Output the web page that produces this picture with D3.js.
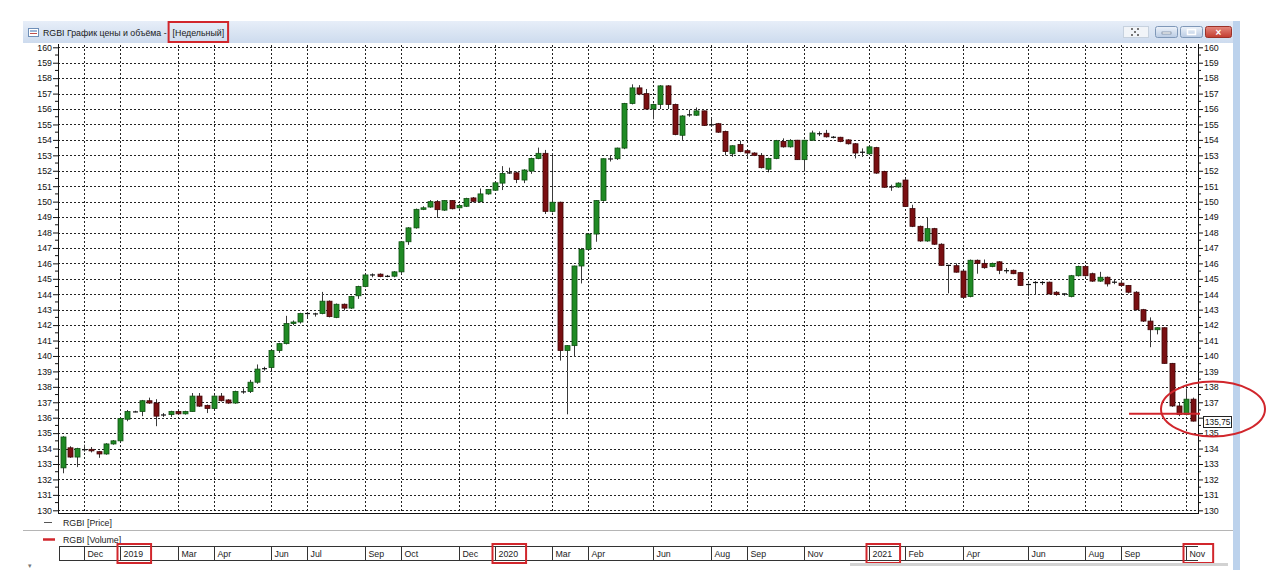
<!DOCTYPE html>
<html><head><meta charset="utf-8">
<script src="https://cdn.jsdelivr.net/npm/d3@7"></script>
<style>
html,body{margin:0;padding:0;background:#fff;}
svg{display:block;font-family:"Liberation Sans",Arial,sans-serif;}
</style></head>
<body>
<svg id="c" width="1280" height="586"></svg>
<script>
// ---------- DATA ----------
const startMonday = '2018-11-12';
const endMondayExclusive = '2021-11-16';
const openV = [132.75,134.05,133.45,133.9,133.95,133.8,133.65,134.3,134.5,135.9,136.35,136.4,137.1,136.95,136.15,136.2,136.4,136.25,136.4,137.4,136.8,136.6,137.4,137.15,136.95,137.65,137.7,
138.3,139.15,139.25,140.35,140.8,142.1,142.2,142.75,142.75,142.75,143.55,142.5,143.35,143.1,143.9,144.5,145.25,145.3,145.15,145.17,145.45,147.4,148.3,149.5,149.65,
150.0,149.45,150.07,149.6,149.7,150.24,150.0,150.5,150.74,151.2,151.85,151.87,151.4,151.98,152.8,153.13,149.37,149.96,140.35,140.67,145.83,146.9,147.9,150.07,152.75,152.78,
153.47,156.36,157.37,157.0,156.0,156.3,157.5,156.3,154.3,155.6,155.6,155.88,154.95,155.05,154.55,153.1,153.7,153.3,153.15,153.0,152.1,152.8,153.9,153.55,153.98,
152.72,153.98,154.4,154.43,154.17,154.17,154.0,153.75,153.2,153.1,153.5,151.95,150.95,150.95,151.4,149.55,148.4,147.45,148.25,147.24,145.87,145.85,
145.5,143.85,146.2,146.0,145.8,146.1,145.55,145.55,145.4,144.63,144.76,144.76,144.78,144.13,144.02,143.85,145.2,145.8,145.33,144.85,145.1,144.78,144.72,144.57,
144.13,143.0,142.26,141.7,141.83,139.52,136.76,136.2,137.2];
const highV = [134.8,134.15,134.05,134.25,134.1,133.85,134.35,134.55,136.0,136.5,136.45,137.15,137.3,137.2,136.3,136.45,136.45,136.45,137.6,137.6,136.85,137.45,137.6,137.2,137.75,137.9,138.45,
139.45,139.3,140.4,140.85,142.6,142.3,142.8,142.85,142.8,144.15,143.6,143.4,143.4,143.9,144.55,145.3,145.35,145.35,145.25,145.5,147.45,148.35,149.55,149.7,150.1,
150.1,150.1,150.1,149.85,150.25,150.3,150.85,150.82,151.25,152.3,152.2,151.95,152.1,152.85,153.5,153.35,153.15,150.0,140.7,145.85,147.0,147.95,150.1,152.8,153.0,153.5,
156.4,157.6,157.55,157.3,156.35,157.55,157.55,156.35,155.6,155.95,156.1,155.9,155.4,155.1,154.6,153.65,153.95,153.35,153.2,153.15,152.85,154.0,154.1,154.05,154.0,
154.0,154.6,154.55,154.65,154.25,154.2,154.05,153.8,153.45,153.65,153.55,152.0,151.1,151.25,151.5,149.8,148.45,149.0,148.3,147.3,145.9,146.0,
145.55,146.25,146.25,146.25,146.05,146.15,145.7,145.6,145.45,144.7,144.85,144.85,144.82,144.2,144.05,145.25,145.85,145.85,145.4,145.45,145.15,144.95,144.9,144.6,
144.2,143.05,142.5,141.85,141.85,139.55,136.95,137.9,137.3];
const lowV = [132.4,133.4,132.8,133.8,133.75,133.4,133.6,134.25,134.45,135.77,136.35,136.1,136.9,135.45,136.05,136.05,136.2,136.2,136.4,136.7,136.3,136.55,137.05,136.9,136.9,137.55,137.6,
138.2,139.05,139.1,140.2,140.75,142.0,142.1,142.5,142.55,142.7,142.5,142.45,142.95,143.05,143.7,144.45,145.1,145.1,145.1,145.1,145.3,147.2,148.25,149.45,149.6,
148.95,149.4,149.5,149.55,149.65,149.95,149.95,150.45,150.7,150.75,151.8,151.2,151.2,151.8,152.75,149.2,149.3,139.7,136.22,139.95,144.7,146.85,147.4,150.0,152.6,152.7,
153.4,156.3,156.9,155.95,155.33,156.0,156.0,154.3,154.0,155.5,155.55,154.9,154.9,154.45,153.0,152.9,153.2,152.9,152.95,152.15,151.9,152.75,153.5,153.5,152.7,
151.96,153.95,154.25,154.15,154.1,153.85,153.7,152.8,152.9,153.05,151.8,150.9,150.7,150.9,149.65,148.35,147.4,147.4,147.2,145.85,144.06,145.4,
143.78,143.8,145.33,145.65,145.75,145.3,145.35,145.3,144.55,143.9,144.0,144.6,144.0,143.9,143.9,143.8,145.15,145.15,144.8,144.8,144.5,144.65,144.5,144.05,
142.95,142.2,140.57,141.4,139.5,136.7,136.1,136.15,135.75];
const closeV = [134.75,133.45,134.0,133.95,133.85,133.65,134.3,134.5,135.95,136.4,136.4,137.1,136.95,136.1,136.2,136.4,136.25,136.4,137.4,136.75,136.6,137.4,137.1,136.95,137.7,137.7,138.3,
139.15,139.2,140.35,140.8,142.1,142.2,142.75,142.75,142.7,143.55,142.55,143.35,143.1,143.85,144.5,145.25,145.25,145.15,145.17,145.45,147.4,148.3,149.5,149.6,150.0,
149.48,150.07,149.54,149.75,150.2,150.02,150.5,150.78,151.22,151.83,151.87,151.43,152.05,152.8,153.13,149.37,149.96,140.35,140.67,145.83,146.9,147.9,150.07,152.78,152.78,153.47,
156.36,157.37,156.97,156.0,156.3,157.5,156.3,154.35,155.55,155.65,155.88,154.94,155.0,154.5,153.25,153.62,153.25,153.15,153.0,152.2,152.8,153.95,153.55,153.97,152.72,
153.98,154.45,154.4,154.2,154.17,153.9,153.75,153.15,153.2,153.55,151.85,150.93,150.95,151.2,149.68,148.4,147.45,148.25,147.24,145.87,145.87,145.43,
143.8,146.2,146.0,145.72,146.0,145.55,145.5,145.33,144.57,144.63,144.76,144.76,144.02,143.98,144.02,145.2,145.8,145.2,144.85,145.1,144.67,144.78,144.57,144.13,
143.0,142.26,141.7,141.83,139.52,136.76,136.2,137.2,135.78];

const priceTicks = d3.range(130, 161);
const tickDates = ['2018-12-03','2019-01-07','2019-03-04','2019-04-08','2019-06-03','2019-07-08','2019-09-02','2019-10-07','2019-12-02','2020-01-06','2020-03-02','2020-04-06','2020-06-08','2020-08-03','2020-09-07','2020-11-02','2021-01-04','2021-02-08','2021-04-05','2021-06-07','2021-08-02','2021-09-06','2021-11-08'];
const tickLabels = ['Dec','2019','Mar','Apr','Jun','Jul','Sep','Oct','Dec','2020','Mar','Apr','Jun','Aug','Sep','Nov','2021','Feb','Apr','Jun','Aug','Sep','Nov'];
const highlightedTickIdx = [1, 9, 16, 22];
const lastPrice = 135.75;
const supportLevel = 136.25;
const titleMain = 'RGBI График цены и объёма -';
const titlePeriod = '[Недельный]';

// ---------- SETUP ----------
const fmt = d3.timeFormat('%Y-%m-%d');
const parse = d3.timeParse('%Y-%m-%d');
const dates = d3.timeMonday.range(parse(startMonday), parse(endMondayExclusive)).map(fmt);
const candles = dates.slice(0, openV.length).map((d, i) => ({d, o: openV[i], h: highV[i], l: lowV[i], c: closeV[i]}));

const svg = d3.select('#c');
const RED = '#d1262c';
const FS = 8.8;
const L = 58, R = 1198, T = 47.3, B = 510.3;

const x = d3.scaleBand().domain(candles.map(c => c.d)).range([L + 1.1, R - 1.3]).paddingInner(0.32).paddingOuter(0.16);
const xc = d => x(d) + x.bandwidth() / 2;
const y = d3.scaleLinear().domain([130, 160]).range([B, T]);

// window chrome
const defs = svg.append('defs');
const g1 = defs.append('linearGradient').attr('id','tb').attr('x1',0).attr('y1',0).attr('x2',0).attr('y2',1);
g1.append('stop').attr('offset','0').attr('stop-color','#e7eef8');
g1.append('stop').attr('offset','1').attr('stop-color','#cddbee');
const g2 = defs.append('linearGradient').attr('id','btn').attr('x1',0).attr('y1',0).attr('x2',0).attr('y2',1);
g2.append('stop').attr('offset','0').attr('stop-color','#eef3fa');
g2.append('stop').attr('offset','1').attr('stop-color','#b9cbe3');
const g3 = defs.append('linearGradient').attr('id','cls').attr('x1',0).attr('y1',0).attr('x2',0).attr('y2',1);
g3.append('stop').attr('offset','0').attr('stop-color','#e5897f');
g3.append('stop').attr('offset','1').attr('stop-color','#c23b2e');

svg.append('rect').attr('x',23).attr('y',21).attr('width',1211).attr('height',22).attr('fill','url(#tb)');
svg.append('rect').attr('x',1233).attr('y',21).attr('width',7).attr('height',549).attr('fill','#bcd2ec');
// icon
svg.append('rect').attr('x',28.5).attr('y',28.5).attr('width',10).attr('height',8).attr('fill','#fff').attr('stroke','#6f8fb8');
svg.append('line').attr('x1',30).attr('x2',37).attr('y1',31).attr('y2',31).attr('stroke','#3a6fb0');
svg.append('line').attr('x1',30).attr('x2',37).attr('y1',33.5).attr('y2',33.5).attr('stroke','#c0504d');
const t1 = svg.append('text').attr('x',43).attr('y',36).attr('font-size',8.8).attr('fill','#1a1a1a').text(titleMain);
const t1w = t1.node().getComputedTextLength();
const t2x = 43 + t1w + 6;
const t2 = svg.append('text').attr('x',t2x).attr('y',36).attr('font-size',8.8).attr('fill','#1a1a1a').text(titlePeriod);
const t2w = t2.node().getComputedTextLength();
svg.append('rect').attr('x',t2x - 4).attr('y',22).attr('width',t2w + 8).attr('height',20).attr('fill','none').attr('stroke',RED).attr('stroke-width',2);
// buttons
svg.append('rect').attr('x',1123.5).attr('y',26.5).attr('width',25).attr('height',11).attr('fill','#f1f4f8').attr('stroke','#c6d1de');
for (let k = 0; k < 3; k++) for (let m = 0; m < 3; m++) if ((k + m) % 2 === 0)
  svg.append('rect').attr('x',1131 + k*3).attr('y',28 + m*3).attr('width',2).attr('height',2).attr('fill','#777');
[[1155,'min'],[1180,'max']].forEach(([bx,t]) => {
  svg.append('rect').attr('x',bx+0.5).attr('y',26.5).attr('width',22).attr('height',11).attr('rx',2).attr('fill','url(#btn)').attr('stroke','#7f98b8');
  if (t === 'min') svg.append('rect').attr('x',bx+7).attr('y',32).attr('width',9).attr('height',2).attr('fill','#fff').attr('stroke','#5c6f88').attr('stroke-width',0.6);
  else svg.append('rect').attr('x',bx+7.5).attr('y',29.5).attr('width',8).attr('height',5).attr('fill','none').attr('stroke','#fff').attr('stroke-width',1.5);
});
svg.append('rect').attr('x',1205.5).attr('y',26.5).attr('width',26).attr('height',11).attr('rx',2).attr('fill','url(#cls)').attr('stroke','#9b3128');
svg.append('text').attr('x',1218.5).attr('y',35.5).attr('text-anchor','middle').attr('font-size',10).attr('font-weight','bold').attr('fill','#fff').text('×');

// grid
const grid = svg.append('g').attr('stroke','#222').attr('stroke-dasharray','2,2').attr('stroke-width',1).attr('shape-rendering','crispEdges');
priceTicks.forEach(v => grid.append('line').attr('x1',L).attr('x2',R).attr('y1',Math.round(y(v))+0.5).attr('y2',Math.round(y(v))+0.5));
tickDates.forEach(d => grid.append('line').attr('x1',Math.round(xc(d))+0.5).attr('x2',Math.round(xc(d))+0.5).attr('y1',T-2).attr('y2',513));

// axes
const axL = svg.append('g').attr('transform',`translate(${L},0)`)
  .call(d3.axisLeft(y).tickValues(priceTicks).tickSize(5).tickSizeOuter(0).tickPadding(1).tickFormat(d3.format('d')));
const axR = svg.append('g').attr('transform',`translate(${R},0)`)
  .call(d3.axisRight(y).tickValues(priceTicks).tickSize(5).tickSizeOuter(0).tickPadding(1).tickFormat(d3.format('d')));
[axL, axR].forEach(a => {
  a.select('.domain').remove();
  a.selectAll('text').attr('font-size',FS).attr('font-family','"Liberation Sans",Arial,sans-serif').attr('fill','#111');
  a.selectAll('line').attr('stroke','#111');
});
// the right-hand label hidden under the last-price marker
axR.selectAll('.tick').filter(v => Math.abs(v - lastPrice) < 0.5).select('text').remove();
const minor = d3.range(130.5, 160, 1);
minor.forEach(v => {
  svg.append('line').attr('x1',L-3).attr('x2',L).attr('y1',y(v)).attr('y2',y(v)).attr('stroke','#111');
  svg.append('line').attr('x1',R).attr('x2',R+3).attr('y1',y(v)).attr('y2',y(v)).attr('stroke','#111');
});
svg.append('line').attr('x1',L+0.5).attr('x2',L+0.5).attr('y1',44).attr('y2',514).attr('stroke','#111');
svg.append('line').attr('x1',R+0.5).attr('x2',R+0.5).attr('y1',44).attr('y2',514).attr('stroke','#111');
svg.append('line').attr('x1',L).attr('x2',R+1).attr('y1',513.5).attr('y2',513.5).attr('stroke','#111');

// candles
const cg = svg.append('g');
const bw = 5;
candles.forEach(c => {
  const cx = Math.round(xc(c.d)) + 0.5;
  cg.append('line').attr('x1',cx).attr('x2',cx).attr('y1',y(c.h)).attr('y2',y(c.l)).attr('stroke','#3a3a3a').attr('stroke-width',1);
  const top = y(Math.max(c.o, c.c)), bot = y(Math.min(c.o, c.c));
  if (Math.abs(c.c - c.o) < 0.06) {
    cg.append('line').attr('x1',cx-2.5).attr('x2',cx+2.5).attr('y1',(top+bot)/2).attr('y2',(top+bot)/2).attr('stroke','#111').attr('stroke-width',1.2);
  } else {
    const up = c.c > c.o;
    cg.append('rect').attr('x',cx-bw/2).attr('y',top).attr('width',bw).attr('height',Math.max(1,bot-top))
      .attr('fill', up ? '#1f8a24' : '#7a0f12').attr('stroke', up ? '#0f4f12' : '#3f0507').attr('stroke-width',0.8);
  }
});

// annotations near last price
svg.append('line').attr('x1',1129).attr('x2',1200).attr('y1',y(supportLevel)).attr('y2',y(supportLevel)).attr('stroke',RED).attr('stroke-width',2);
const ly = Math.round(y(lastPrice));
svg.append('rect').attr('x',1203.5).attr('y',ly-5.5).attr('width',28).attr('height',11).attr('fill','#fff').attr('stroke','#222');
svg.append('text').attr('x',1205).attr('y',ly+3.2).attr('font-size',8.3).attr('fill','#111').text(d3.format('.2f')(lastPrice).replace('.',','));
svg.append('ellipse').attr('cx',1213).attr('cy',409).attr('rx',52).attr('ry',27.5).attr('fill','none').attr('stroke',RED).attr('stroke-width',2);

// legend / panel separators
svg.append('line').attr('x1',44).attr('x2',52).attr('y1',522.5).attr('y2',522.5).attr('stroke','#555');
svg.append('text').attr('x',63).attr('y',525.5).attr('font-size',FS).attr('fill','#222').text('RGBI [Price]');
svg.append('line').attr('x1',23).attr('x2',1233).attr('y1',530.5).attr('y2',530.5).attr('stroke','#b5b5b5');
svg.append('line').attr('x1',43).attr('x2',55).attr('y1',539.5).attr('y2',539.5).attr('stroke',RED).attr('stroke-width',2.5);
svg.append('text').attr('x',63).attr('y',542.5).attr('font-size',FS).attr('fill','#222').text('RGBI [Volume]');

// time axis band
const tb = svg.append('g');
tb.append('line').attr('x1',59).attr('x2',1198).attr('y1',546.5).attr('y2',546.5).attr('stroke','#333');
tb.append('line').attr('x1',59).attr('x2',1198).attr('y1',560.5).attr('y2',560.5).attr('stroke','#333');
tb.append('line').attr('x1',59.5).attr('x2',59.5).attr('y1',546).attr('y2',561).attr('stroke','#333');
tickDates.forEach((d, i) => {
  const sx = Math.round(xc(d)) + 0.5;
  tb.append('line').attr('x1',sx).attr('x2',sx).attr('y1',546).attr('y2',561).attr('stroke','#333');
  const lt = tb.append('text').attr('x',sx+3).attr('y',556.5).attr('font-size',FS).attr('fill','#222').text(tickLabels[i]);
  if (highlightedTickIdx.includes(i)) {
    const w = lt.node().getComputedTextLength();
    tb.append('rect').attr('x',sx-3).attr('y',544).attr('width',w + 14).attr('height',19).attr('fill','none').attr('stroke',RED).attr('stroke-width',2);
  }
});
// scrollbar
svg.append('rect').attr('x',850).attr('y',563).attr('width',378).attr('height',3).attr('fill','#d2d2d2');
svg.append('text').attr('x',28).attr('y',568).attr('font-size',7).attr('fill','#777').text('▾');
</script>
</body></html>
